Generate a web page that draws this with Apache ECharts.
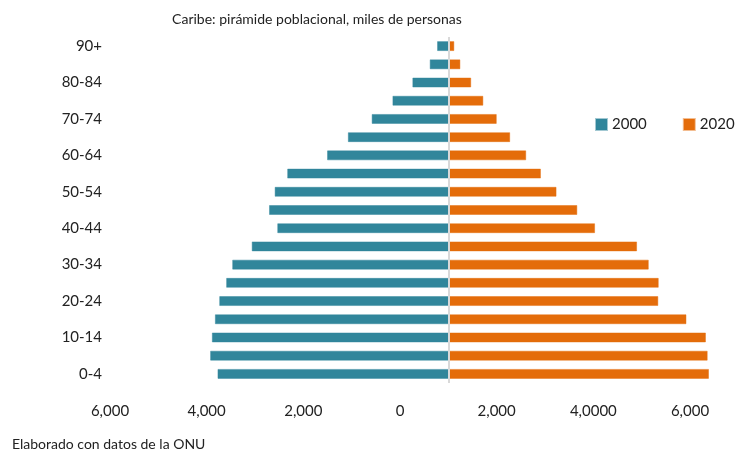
<!DOCTYPE html>
<html>
<head>
<meta charset="utf-8">
<script src="https://cdn.jsdelivr.net/npm/echarts@6/dist/echarts.min.js"></script>
<style>
html,body{margin:0;padding:0;background:#fff;}
#chart{width:738px;height:457px;}
</style>
</head>
<body>
<div id="chart"></div>
<script>
// Age groups, bottom to top
const ageGroups = ['0-4','5-9','10-14','15-19','20-24','25-29','30-34','35-39','40-44','45-49','50-54','55-59','60-64','65-69','70-74','75-79','80-84','85-89','90+'];
// Thousands of people
const pop2000 = [5350,5520,5480,5410,5310,5150,5010,4560,3970,4160,4030,3740,2820,2340,1790,1310,850,450,280];
const pop2020 = [6000,5970,5930,5480,4830,4840,4610,4340,3370,2960,2480,2120,1780,1410,1100,790,510,260,120];
// Bottom axis labels as printed in the original
const tickLabels = ['6,000','4,000','2,000','0','2,000','4,0000','6,000'];

const FONT = 'Lato, "Open Sans", sans-serif';
const chart = echarts.init(document.getElementById('chart'), null, {renderer:'canvas'});
chart.setOption({
  animation:false,
  backgroundColor:'#ffffff',
  textStyle:{fontFamily:FONT},
  title:{
    text:'Caribe: pirámide poblacional, miles de personas',
    left:312, top:7, textAlign:'center',
    textStyle:{fontFamily:FONT,fontSize:14,fontWeight:'normal',color:'#222'}
  },
  legend:{
    left:595, top:117, padding:0,
    itemWidth:11, itemHeight:11, itemGap:36,
    icon:'rect',
    textStyle:{fontFamily:FONT,fontSize:15,color:'#222',padding:[0,0,0,0]},
    data:['2000','2020']
  },
  graphic:[{
    type:'text', left:12, top:437,
    style:{text:'Elaborado con datos de la ONU', fill:'#222', font:'14px '+FONT}
  }],
  grid:[
    {left:146, right:29, top:37, bottom:74, containLabel:false},
    {left:110, right:48, top:37, bottom:74, containLabel:false}
  ],
  xAxis:[
    {type:'value', gridIndex:0, min:-7000, max:6000, show:false},
    {type:'category', gridIndex:1, data:tickLabels, boundaryGap:false,
     axisLine:{show:false}, axisTick:{show:false}, splitLine:{show:false},
     axisLabel:{show:true, margin:21, interval:0, fontFamily:FONT, fontSize:15, color:'#222'}}
  ],
  yAxis:[
    {type:'category', gridIndex:0, data:ageGroups,
     axisLine:{show:false}, axisTick:{show:false}, splitLine:{show:false},
     axisLabel:{interval:1, margin:44, fontFamily:FONT, fontSize:15, color:'#222'}},
    {type:'value', gridIndex:1, show:false}
  ],
  series:[
    {name:'2000', type:'bar', stack:'p', xAxisIndex:0, yAxisIndex:0,
     barWidth:10,
     itemStyle:{color:'#31869b', borderColor:'rgba(49,134,155,0.45)', borderWidth:1},
     data:pop2000.map(v=>-v),
     markLine:{silent:true, symbol:'none', label:{show:false},
       lineStyle:{color:'#d9d9d9', width:2, type:'solid'},
       data:[{xAxis:0}]}
    },
    {name:'2020', type:'bar', stack:'p', xAxisIndex:0, yAxisIndex:0,
     barWidth:10,
     itemStyle:{color:'#e46c0a', borderColor:'rgba(228,108,10,0.45)', borderWidth:1},
     data:pop2020}
  ]
});
</script>
</body>
</html>
